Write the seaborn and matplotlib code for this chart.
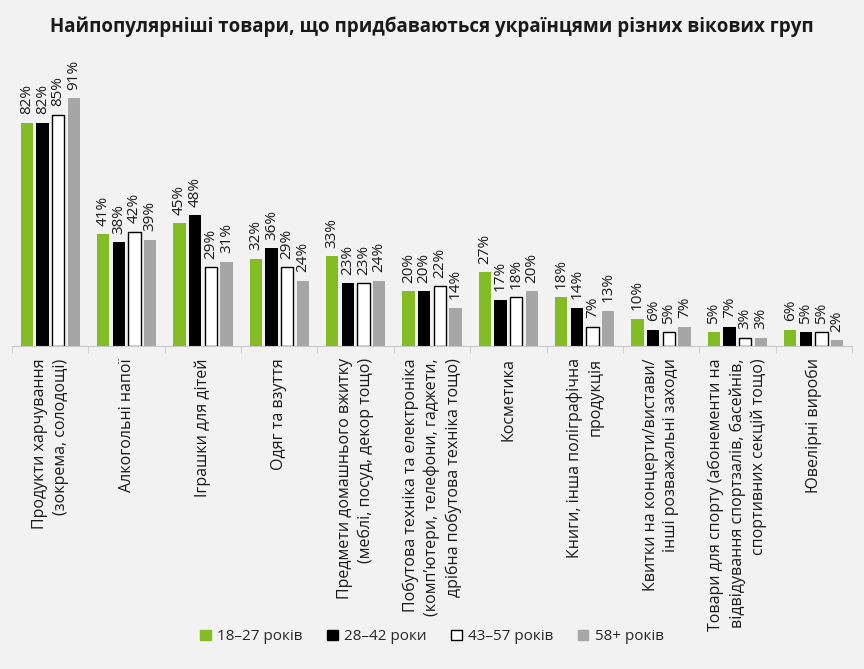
import seaborn as sns
import pandas as pd
import matplotlib.pyplot as plt
from matplotlib.patches import Patch
from matplotlib.ticker import FixedLocator

categories = [
    "Продукти харчування\n(зокрема, солодощі)",
    "Алкогольні напої",
    "Іграшки для дітей",
    "Одяг та взуття",
    "Предмети домашнього вжитку\n(меблі, посуд, декор тощо)",
    "Побутова техніка та електроніка\n(комп’ютери, телефони, гаджети,\nдрібна побутова техніка тощо)",
    "Косметика",
    "Книги, інша поліграфічна\nпродукція",
    "Квитки на концерти/вистави/\nінші розважальні заходи",
    "Товари для спорту (абонементи на\nвідвідування спортзалів, басейнів,\nспортивних секцій тощо)",
    "Ювелірні вироби",
]
groups = ["18–27 років", "28–42 роки", "43–57 років", "58+ років"]
v_18_27 = [82, 41, 45, 32, 33, 20, 27, 18, 10, 5, 6]
v_28_42 = [82, 38, 48, 36, 23, 20, 17, 14, 6, 7, 5]
v_43_57 = [85, 42, 29, 29, 23, 22, 18, 7, 5, 3, 5]
v_58 = [91, 39, 31, 24, 24, 14, 20, 13, 7, 3, 2]

colors = ["#84bc26", "#000000", "#ffffff", "#a6a6a6"]
bg = "#f2f2f2"

rows = []
for g, vals in zip(groups, [v_18_27, v_28_42, v_43_57, v_58]):
    for c, v in zip(categories, vals):
        rows.append({"cat": c, "group": g, "value": v})
df = pd.DataFrame(rows)

sns.set_style("white")
plt.rcParams["font.family"] = ["Open Sans", "DejaVu Sans"]

fig = plt.figure(figsize=(8.64, 6.69), dpi=100, facecolor=bg)
ax = fig.add_axes([0.014, 0.483, 0.972, 0.427])
ax.set_facecolor(bg)

sns.barplot(data=df, x="cat", y="value", hue="group", hue_order=groups,
            order=categories, palette=colors, width=0.82, gap=0.22,
            legend=False, ax=ax, saturation=1)

for cont, col in zip(ax.containers, colors):
    for p in cont:
        if col == "#ffffff":
            p.set_edgecolor("black")
            p.set_linewidth(1.0)
        else:
            p.set_edgecolor("none")
    ax.bar_label(cont, labels=[f"{int(v)}%" for v in cont.datavalues],
                 rotation=90, padding=6, fontsize=11, color="#1a1a1a")

ax.set_ylim(0, 105)
ax.set_xlim(-0.5, len(categories) - 0.5)
ax.set_yticks([])
ax.set_xlabel("")
ax.set_ylabel("")
for s in ["top", "right", "left"]:
    ax.spines[s].set_visible(False)
ax.spines["bottom"].set_color("#c8c8c8")

ax.set_xticks(range(len(categories)))
ax.set_xticklabels(categories, rotation=90, fontsize=11.5, color="#1a1a1a",
                   multialignment="right", va="top", ha="center",
                   linespacing=1.4)
ax.tick_params(axis="x", which="major", length=0, pad=9)
ax.xaxis.set_minor_locator(FixedLocator([i - 0.5 for i in range(len(categories) + 1)]))
ax.tick_params(axis="x", which="minor", length=5, color="#c8c8c8", bottom=True)

fig.suptitle("Найпопулярніші товари, що придбаваються українцями різних вікових груп",
             fontsize=13.5, fontweight="bold", y=0.975, color="#1a1a1a")

handles = [Patch(facecolor=c, edgecolor=("black" if c == "#ffffff" else c), label=g)
           for c, g in zip(colors, groups)]
fig.legend(handles=handles, loc="center", bbox_to_anchor=(0.5, 0.048), ncol=4,
           frameon=False, fontsize=11, handlelength=0.7, handleheight=0.7,
           handletextpad=0.4, columnspacing=1.6)

fig.savefig("out.png", dpi=100, facecolor=bg)
